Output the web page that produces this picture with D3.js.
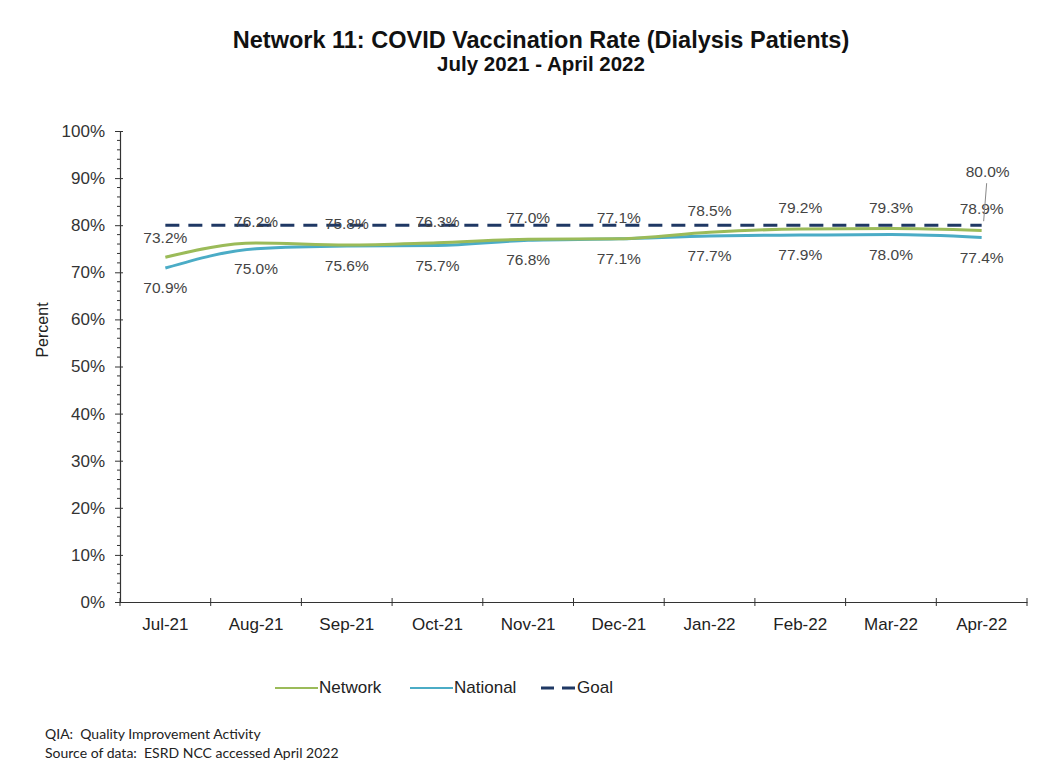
<!DOCTYPE html>
<html>
<head>
<meta charset="utf-8">
<script src="https://cdn.jsdelivr.net/npm/d3@7"></script>
<style>
    body { margin: 0; background: #fff; }
    svg { display: block; font-family: Arial, "Liberation Sans", sans-serif; }
</style>
</head>
<body>
<script>
// Chart data
const months = ["Jul-21", "Aug-21", "Sep-21", "Oct-21", "Nov-21", "Dec-21", "Jan-22", "Feb-22", "Mar-22", "Apr-22"];
const network = [73.2, 76.2, 75.8, 76.3, 77.0, 77.1, 78.5, 79.2, 79.3, 78.9];
const national = [70.9, 75.0, 75.6, 75.7, 76.8, 77.1, 77.7, 77.9, 78.0, 77.4];
const goal = [80, 80, 80, 80, 80, 80, 80, 80, 80, 80];
const yTicks = [0, 10, 20, 30, 40, 50, 60, 70, 80, 90, 100];

const width = 1058;
const height = 772;
const margin = {left: 120, right: 31, top: 131, bottom: 170};

const svg = d3.select("body").append("svg")
    .attr("width", width)
    .attr("height", height);

const x = d3.scaleBand()
    .domain(months)
    .range([margin.left, width - margin.right]);

const y = d3.scaleLinear()
    .domain([0, 100])
    .range([height - margin.bottom, margin.top]);

const cx = d => x(d) + x.bandwidth() / 2;

// Title
svg.append("text")
    .attr("x", 541).attr("y", 48)
    .attr("text-anchor", "middle")
    .style("font-weight", "bold")
    .style("font-size", "23.5px")
    .attr("fill", "#111")
    .text("Network 11: COVID Vaccination Rate (Dialysis Patients)");

svg.append("text")
    .attr("x", 541).attr("y", 71)
    .attr("text-anchor", "middle")
    .style("font-weight", "bold")
    .style("font-size", "20.5px")
    .attr("fill", "#111")
    .text("July 2021 - April 2022");

// Y axis
const yAxis = svg.append("g")
    .attr("transform", `translate(${margin.left},0)`)
    .call(d3.axisLeft(y).tickValues(yTicks).tickFormat(d => d + "%").tickSize(5).tickPadding(10));
yAxis.select(".domain").attr("stroke", "#333").attr("stroke-width", 1.2);
yAxis.selectAll(".tick line").attr("stroke", "#333").attr("x2", -5).attr("x1", 3);
yAxis.selectAll(".tick text").style("font-size", "17px").attr("fill", "#333");

// minor ticks every 2%
svg.append("g")
    .selectAll("line")
    .data(d3.range(0, 101, 2).filter(v => v % 10 !== 0))
    .join("line")
    .attr("x1", margin.left - 3).attr("x2", margin.left)
    .attr("y1", d => y(d)).attr("y2", d => y(d))
    .attr("stroke", "#333");

svg.append("text")
    .attr("transform", "translate(48,330) rotate(-90)")
    .attr("text-anchor", "middle")
    .style("font-size", "16px")
    .attr("fill", "#222")
    .text("Percent");

// X axis
const xAxis = svg.append("g")
    .attr("transform", `translate(0,${y(0)})`)
    .call(d3.axisBottom(x).tickSize(0).tickPadding(16));
xAxis.select(".domain").attr("stroke", "#333").attr("stroke-width", 1.2);
xAxis.selectAll(".tick text").style("font-size", "17px").attr("fill", "#222");

// category separators
svg.append("g")
    .selectAll("line")
    .data(months.concat(["end"]))
    .join("line")
    .attr("x1", (d, i) => margin.left + i * x.bandwidth())
    .attr("x2", (d, i) => margin.left + i * x.bandwidth())
    .attr("y1", y(0) - 4).attr("y2", y(0) + 4)
    .attr("stroke", "#333");

// Lines
const line = d3.line()
    .x((d, i) => cx(months[i]))
    .y(d => y(d))
    .curve(d3.curveMonotoneX);

svg.append("path")
    .datum(national)
    .attr("d", line)
    .attr("fill", "none")
    .attr("stroke", "#4BACC6")
    .attr("stroke-width", 3);

svg.append("path")
    .datum(network)
    .attr("d", line)
    .attr("fill", "none")
    .attr("stroke", "#9BBB59")
    .attr("stroke-width", 3);

svg.append("path")
    .datum(goal)
    .attr("d", line)
    .attr("fill", "none")
    .attr("stroke", "#1F3864")
    .attr("stroke-width", 3)
    .attr("stroke-dasharray", "14,9");

// Data labels
const labelStyle = sel => sel
    .attr("text-anchor", "middle")
    .attr("dominant-baseline", "middle")
    .style("font-size", "15.5px")
    .attr("fill", "#444");

svg.append("g").selectAll("text")
    .data(network)
    .join("text")
    .attr("x", (d, i) => cx(months[i]))
    .attr("y", (d, i) => y(d) - (i === 0 ? 18 : 20))
    .call(labelStyle)
    .text(d => d.toFixed(1) + "%");

svg.append("g").selectAll("text")
    .data(national)
    .join("text")
    .attr("x", (d, i) => cx(months[i]))
    .attr("y", d => y(d) + 21)
    .call(labelStyle)
    .text(d => d.toFixed(1) + "%");

// Goal label on last point with leader line
const last = months.length - 1;
svg.append("line")
    .attr("x1", cx(months[last]) + 2).attr("y1", y(goal[last]) - 4)
    .attr("x2", cx(months[last]) + 5).attr("y2", y(goal[last]) - 42)
    .attr("stroke", "#888").attr("stroke-width", 1);
svg.append("text")
    .attr("x", cx(months[last]) + 6)
    .attr("y", y(goal[last]) - 52)
    .call(labelStyle)
    .text(goal[last].toFixed(1) + "%");

// Legend
const legend = [
    {name: "Network", color: "#9BBB59", dash: null, x: 275},
    {name: "National", color: "#4BACC6", dash: null, x: 410},
    {name: "Goal", color: "#1F3864", dash: "13,8", x: 541}
];
const lg = svg.append("g").attr("transform", "translate(0,688)");
legend.forEach(l => {
    lg.append("line")
        .attr("x1", l.x).attr("x2", l.x + (l.dash ? 34 : 43))
        .attr("y1", 0).attr("y2", 0)
        .attr("stroke", l.color)
        .attr("stroke-width", l.dash ? 3 : 2)
        .attr("stroke-dasharray", l.dash);
    lg.append("text")
        .attr("x", l.x + (l.dash ? 36 : 44))
        .attr("y", 1)
        .attr("dominant-baseline", "middle")
        .style("font-size", "17px")
        .attr("fill", "#222")
        .text(l.name);
});

// Footnotes
const notes = ["QIA:  Quality Improvement Activity", "Source of data:  ESRD NCC accessed April 2022"];
svg.append("g").selectAll("text")
    .data(notes)
    .join("text")
    .attr("x", 45)
    .attr("y", (d, i) => 739 + i * 19)
    .style("font-family", "Lato, 'Open Sans', sans-serif")
    .style("font-size", "14px")
    .style("white-space", "pre")
    .attr("fill", "#222")
    .text(d => d);
</script>
</body>
</html>
